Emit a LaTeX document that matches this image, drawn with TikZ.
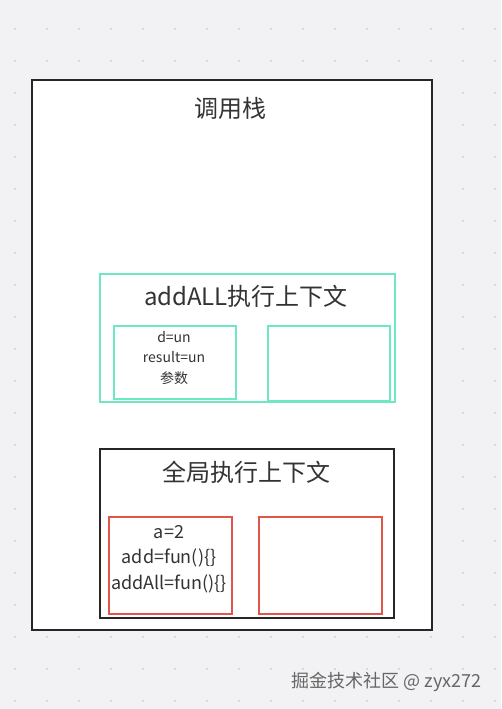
\documentclass[tikz,border=0pt]{standalone}
\usepackage{fontspec}
\setmainfont{Noto Sans CJK SC}
\begin{document}
\begin{tikzpicture}[x=1pt,y=-1pt,
  box/.style={draw=black!85,line width=2pt,fill=white},
  gbox/.style={draw=green1,line width=2.2pt,fill=white},
  rbox/.style={draw=red1,line width=2.2pt,fill=white},
  title/.style={font=\fontsize{24}{28}\selectfont,text=black!80},
  small/.style={font=\fontsize{14}{20.5}\selectfont,text=black!80,align=center},
  mid/.style={font=\fontsize{18}{25.5}\selectfont,text=black!80,align=center}]
\definecolor{green1}{HTML}{6EE8C4}
\definecolor{red1}{HTML}{E0564B}
\definecolor{bg}{HTML}{F2F2F4}
\fill[bg] (0,0) rectangle (501,709);
\useasboundingbox (0,0) rectangle (501,709);
\foreach \i in {0,...,15} \foreach \j in {0,...,21}
  \fill[black!25] (15+32*\i,29+32*\j) circle (0.9pt);
\node[box,minimum width=400pt,minimum height=550pt,anchor=north west] (stack) at (31,79) {};
\node[title] (stacktitle) at (230,108) {调用栈};
\node[gbox,minimum width=295pt,minimum height=128pt,anchor=north west] (addctx) at (99,273) {};
\node[title] (addtitle) at (246,296) {addALL执行上下文};
\node[gbox,minimum width=122pt,minimum height=73pt,anchor=north west] (addvar) at (113,325) {};
\node[gbox,minimum width=122pt,minimum height=75pt,anchor=north west] (addother) at (267,325) {};
\node[small] (addvartext) at (174,358) {d=un\\result=un\\参数};
\node[box,minimum width=294pt,minimum height=169pt,anchor=north west] (glob) at (99,448) {};
\node[title] (globtitle) at (246,472) {全局执行上下文};
\node[rbox,minimum width=123pt,minimum height=97pt,anchor=north west] (globvar) at (108,516) {};
\node[rbox,minimum width=123pt,minimum height=97pt,anchor=north west] (globother) at (258,516) {};
\node[mid] (globvartext) at (169,559) {a=2\\add=fun()\{\}\\addAll=fun()\{\}};
\node[font=\fontsize{18}{21}\selectfont,text=black!60,anchor=east] (wm) at (485,682) {掘金技术社区 @ zyx272};
\end{tikzpicture}
\end{document}
